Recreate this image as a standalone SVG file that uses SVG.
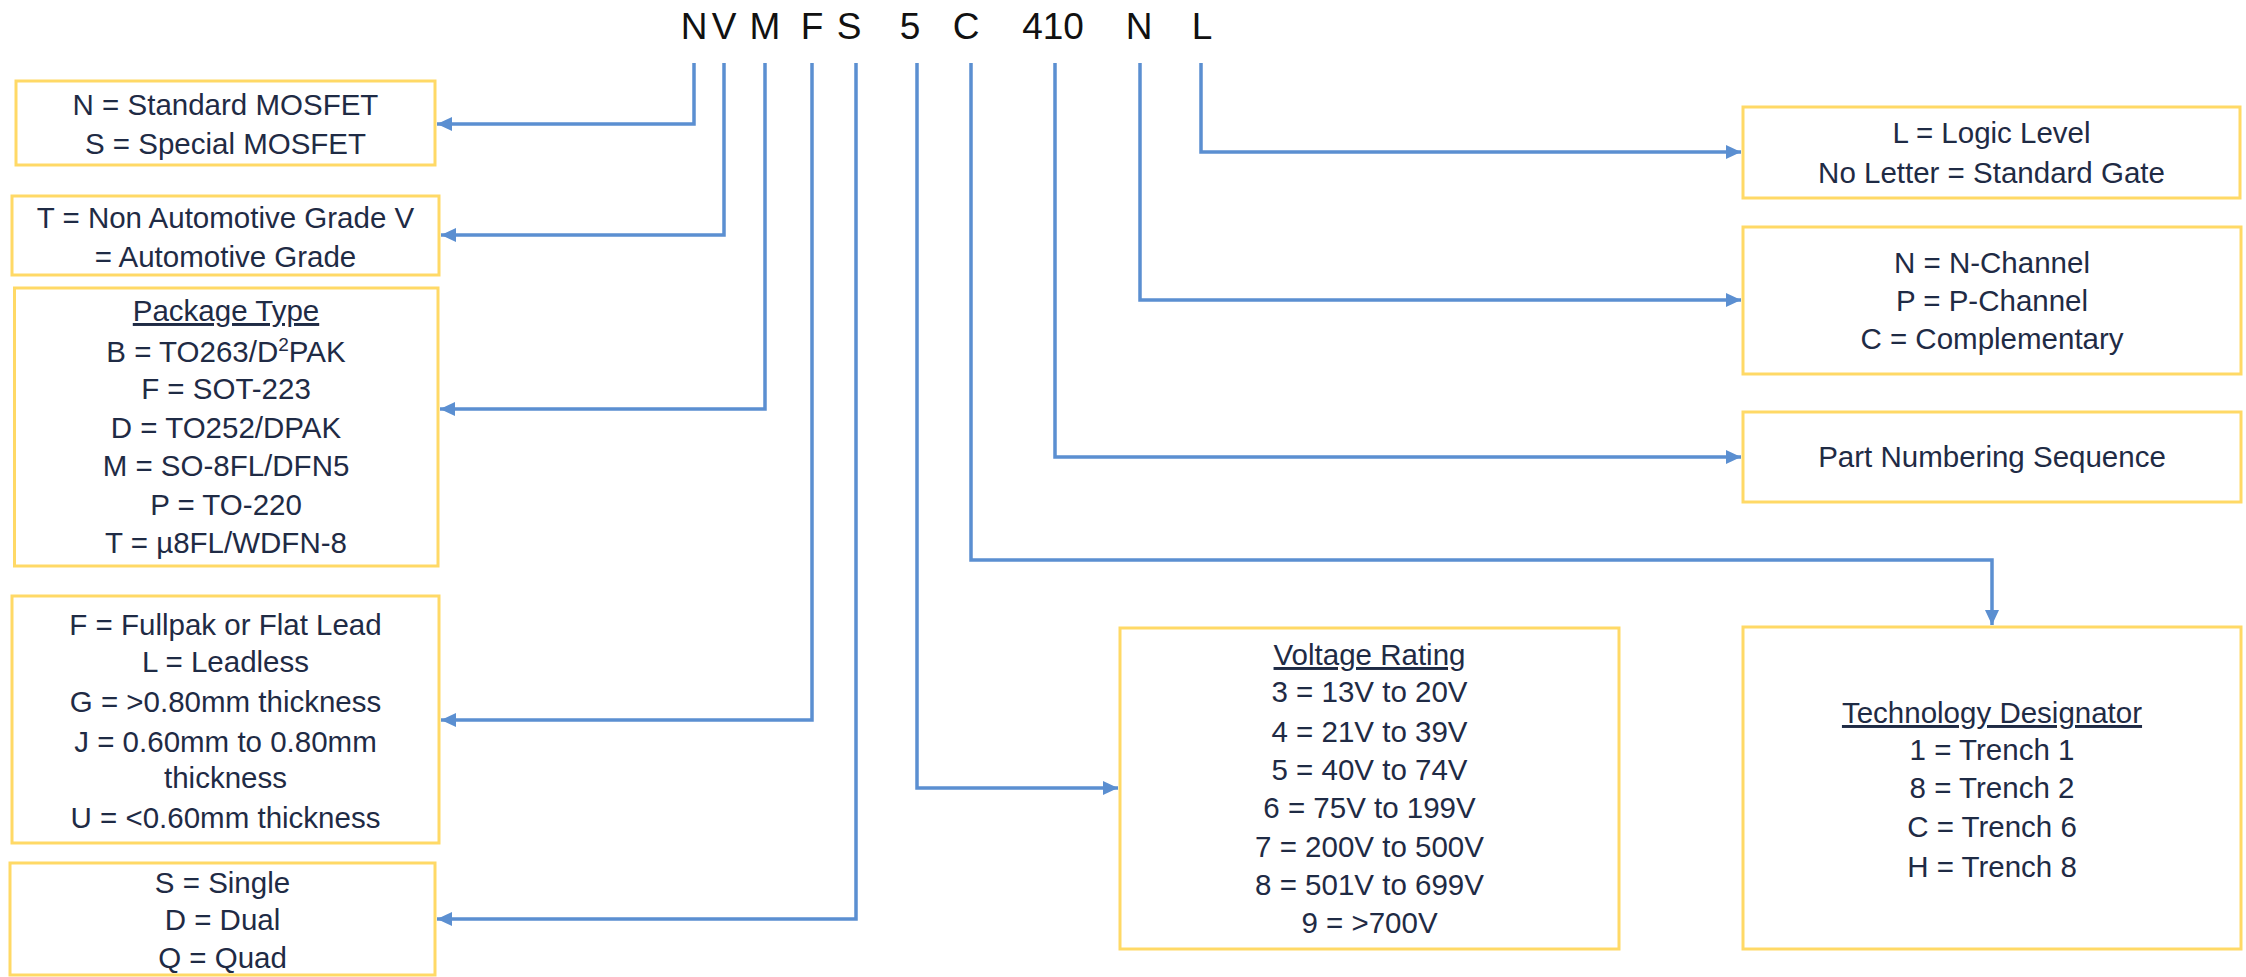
<svg xmlns="http://www.w3.org/2000/svg" width="2246" height="977" viewBox="0 0 2246 977">
<style>
.box{fill:#fff;stroke:#FFD966;stroke-width:3}
.t{font-family:"Liberation Sans",Arial,sans-serif;font-size:29.5px;fill:#1f2b45;text-anchor:middle}
.h{text-decoration:underline}
.code{font-family:"Liberation Sans",Arial,sans-serif;font-size:37px;fill:#111;text-anchor:middle}
.c{fill:none;stroke:#5B8FD1;stroke-width:3.5}
</style>
<defs>
<marker id="arr" markerUnits="userSpaceOnUse" markerWidth="16" markerHeight="14" refX="15" refY="7" orient="auto">
<path d="M0,0 L15,7 L0,14 z" fill="#5B8FD1"/>
</marker>
</defs>
<rect width="2246" height="977" fill="#fff"/>
<g id="code">
<text class="code" x="694" y="39">N</text>
<text class="code" x="724" y="39">V</text>
<text class="code" x="765" y="39">M</text>
<text class="code" x="812" y="39">F</text>
<text class="code" x="849" y="39">S</text>
<text class="code" x="910" y="39">5</text>
<text class="code" x="966" y="39">C</text>
<text class="code" x="1053" y="39">410</text>
<text class="code" x="1139" y="39">N</text>
<text class="code" x="1202" y="39">L</text>
</g>
<g id="connectors">
<path class="c" d="M694,63 V124 H437" marker-end="url(#arr)"/>
<path class="c" d="M724,63 V235 H441" marker-end="url(#arr)"/>
<path class="c" d="M765,63 V409 H440" marker-end="url(#arr)"/>
<path class="c" d="M812,63 V720 H441" marker-end="url(#arr)"/>
<path class="c" d="M856,63 V919 H437" marker-end="url(#arr)"/>
<path class="c" d="M917,63 V788 H1118" marker-end="url(#arr)"/>
<path class="c" d="M971,63 V560 H1992 V625" marker-end="url(#arr)"/>
<path class="c" d="M1055,63 V457 H1741" marker-end="url(#arr)"/>
<path class="c" d="M1140,63 V300 H1741" marker-end="url(#arr)"/>
<path class="c" d="M1201,63 V152 H1741" marker-end="url(#arr)"/>
</g>
<g id="mosfet">
<rect class="box" x="16" y="81" width="419" height="84"/>
<text class="t" x="225.5" y="115">N = Standard MOSFET</text>
<text class="t" x="225.5" y="154">S = Special MOSFET</text>
</g>
<g id="grade">
<rect class="box" x="12" y="196" width="427" height="79"/>
<text class="t" x="225.5" y="228">T = Non Automotive Grade V</text>
<text class="t" x="225.5" y="267">= Automotive Grade</text>
</g>
<g id="package">
<rect class="box" x="14.5" y="288" width="423.5" height="278"/>
<text class="t h" x="226" y="321">Package Type</text>
<text class="t" x="226" y="362">B = TO263/D<tspan font-size="19" dy="-11">2</tspan><tspan dy="11">PAK</tspan></text>
<text class="t" x="226" y="399">F = SOT-223</text>
<text class="t" x="226" y="438">D = TO252/DPAK</text>
<text class="t" x="226" y="476">M = SO-8FL/DFN5</text>
<text class="t" x="226" y="515">P = TO-220</text>
<text class="t" x="226" y="553">T = µ8FL/WDFN-8</text>
</g>
<g id="lead">
<rect class="box" x="12" y="596" width="427" height="247"/>
<text class="t" x="225.5" y="635">F = Fullpak or Flat Lead</text>
<text class="t" x="225.5" y="672">L = Leadless</text>
<text class="t" x="225.5" y="712">G = &gt;0.80mm thickness</text>
<text class="t" x="225.5" y="752">J = 0.60mm to 0.80mm</text>
<text class="t" x="225.5" y="788">thickness</text>
<text class="t" x="225.5" y="828">U = &lt;0.60mm thickness</text>
</g>
<g id="config">
<rect class="box" x="10" y="863" width="425" height="112"/>
<text class="t" x="222.5" y="893">S = Single</text>
<text class="t" x="222.5" y="930">D = Dual</text>
<text class="t" x="222.5" y="968">Q = Quad</text>
</g>
<g id="voltage">
<rect class="box" x="1120" y="628" width="499" height="321"/>
<text class="t h" x="1369.5" y="665">Voltage Rating</text>
<text class="t" x="1369.5" y="702">3 = 13V to 20V</text>
<text class="t" x="1369.5" y="742">4 = 21V to 39V</text>
<text class="t" x="1369.5" y="780">5 = 40V to 74V</text>
<text class="t" x="1369.5" y="818">6 = 75V to 199V</text>
<text class="t" x="1369.5" y="857">7 = 200V to 500V</text>
<text class="t" x="1369.5" y="895">8 = 501V to 699V</text>
<text class="t" x="1369.5" y="933">9 = &gt;700V</text>
</g>
<g id="logic">
<rect class="box" x="1743" y="107" width="497" height="91"/>
<text class="t" x="1991.5" y="143">L = Logic Level</text>
<text class="t" x="1991.5" y="183">No Letter = Standard Gate</text>
</g>
<g id="channel">
<rect class="box" x="1743" y="227" width="498" height="147"/>
<text class="t" x="1992" y="273">N = N-Channel</text>
<text class="t" x="1992" y="311">P = P-Channel</text>
<text class="t" x="1992" y="349">C = Complementary</text>
</g>
<g id="partnum">
<rect class="box" x="1743" y="412" width="498" height="90"/>
<text class="t" x="1992" y="467">Part Numbering Sequence</text>
</g>
<g id="technology">
<rect class="box" x="1743" y="627" width="498" height="322"/>
<text class="t h" x="1992" y="723">Technology Designator</text>
<text class="t" x="1992" y="760">1 = Trench 1</text>
<text class="t" x="1992" y="798">8 = Trench 2</text>
<text class="t" x="1992" y="837">C = Trench 6</text>
<text class="t" x="1992" y="877">H = Trench 8</text>
</g>
</svg>
